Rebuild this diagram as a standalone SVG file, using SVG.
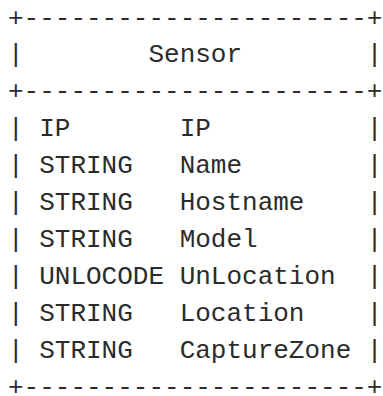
<svg xmlns="http://www.w3.org/2000/svg" width="383" height="396" viewBox="0 0 383 396">
<style>
.t{font-family:"Liberation Mono","DejaVu Sans Mono",monospace;font-size:26px;fill:#2b2b2b;white-space:pre}
</style>
<rect width="383" height="396" fill="#ffffff"/>
<g id="sensor">
<text class="t" xml:space="preserve">
<tspan x="8" y="25.5">+----------------------+</tspan>
<tspan x="8" y="62.4">|        Sensor        |</tspan>
<tspan x="8" y="99.3">+----------------------+</tspan>
<tspan x="8" y="136.2">| IP       IP          |</tspan>
<tspan x="8" y="173.1">| STRING   Name        |</tspan>
<tspan x="8" y="210">| STRING   Hostname    |</tspan>
<tspan x="8" y="246.9">| STRING   Model       |</tspan>
<tspan x="8" y="283.8">| UNLOCODE UnLocation  |</tspan>
<tspan x="8" y="320.7">| STRING   Location    |</tspan>
<tspan x="8" y="357.6">| STRING   CaptureZone |</tspan>
<tspan x="8" y="394.5">+----------------------+</tspan>
</text>
</g>
</svg>
